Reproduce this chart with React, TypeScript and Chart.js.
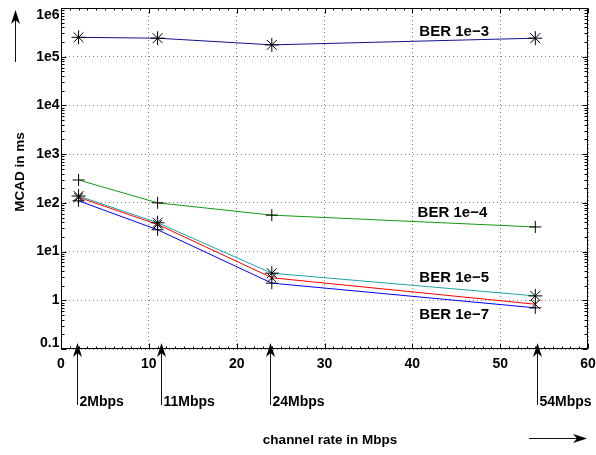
import React, { useEffect, useRef } from "react";
import { Chart, registerables } from "chart.js";

Chart.register(...registerables);

// ---- data ----
const rates = [2, 11, 24, 54];
const ber1e3 = [2.5e5, 2.4e5, 1.75e5, 2.4e5];
const ber1e4 = [295, 100, 56, 32];
const ber1e5 = [138, 39, 3.6, 1.23];
const ber1e6 = [130, 36, 2.9, 0.83];
const ber1e7 = [110, 28, 2.25, 0.7];

const yTickValues = [0.1, 1, 10, 100, 1000, 1e4, 1e5, 1e6];
const yTickLabels = ["0.1", "1", "1e1", "1e2", "1e3", "1e4", "1e5", "1e6"];
const xTickValues = [0, 10, 20, 30, 40, 50, 60];
const xTickLabels = ["0", "10", "20", "30", "40", "50", "60"];

const rateArrowX = [1.8, 11.4, 23.8, 54.2];
const rateArrowLabels = ["2Mbps", "11Mbps", "24Mbps", "54Mbps"];

const berLabels = ["BER 1e\u22123", "BER 1e\u22124", "BER 1e\u22125", "BER 1e\u22127"];
const berLabelX = [40.8, 40.6, 40.8, 40.8];
const berLabelY = [3.2e5, 62, 2.86, 0.5];

const xTitle = "channel rate in Mbps";
const yTitle = "MCAD in ms";

const FONT = "'Liberation Sans', Arial, Helvetica, sans-serif";

function drawArrow(ctx: CanvasRenderingContext2D, x1: number, y1: number, x2: number, y2: number) {
  const ang = Math.atan2(y2 - y1, x2 - x1);
  const hl = 14, hw = 4.5, notch = 10;
  ctx.save();
  ctx.strokeStyle = "#111";
  ctx.fillStyle = "#000";
  ctx.lineWidth = 1;
  ctx.beginPath();
  ctx.moveTo(x1, y1);
  ctx.lineTo(x2 - Math.cos(ang) * notch, y2 - Math.sin(ang) * notch);
  ctx.stroke();
  ctx.translate(x2, y2);
  ctx.rotate(ang);
  ctx.beginPath();
  ctx.moveTo(0, 0);
  ctx.lineTo(-hl, -hw);
  ctx.lineTo(-notch, 0);
  ctx.lineTo(-hl, hw);
  ctx.closePath();
  ctx.fill();
  ctx.restore();
}

const decorPlugin = {
  id: "decor",
  afterDraw(chart: any) {
    const ctx: CanvasRenderingContext2D = chart.ctx;
    const { left, right, top, bottom } = chart.chartArea;
    const xs = chart.scales.x;
    const ys = chart.scales.y;
    const L = Math.round(left) + 0.5;
    const R = Math.round(right) - 0.5;
    const T = Math.round(top) + 0.5;
    const B = Math.round(bottom) - 0.5;
    ctx.save();
    ctx.strokeStyle = "#000";
    ctx.lineWidth = 1;
    ctx.strokeRect(L, T, R - L, B - T);

    ctx.beginPath();
    // x ticks
    for (let v = 0; v <= 60; v++) {
      const px = Math.round(xs.getPixelForValue(v)) + 0.5;
      const len = v % 10 === 0 ? 5 : 2;
      ctx.moveTo(px, B); ctx.lineTo(px, B - len);
      ctx.moveTo(px, T); ctx.lineTo(px, T + len);
    }
    // y ticks
    for (let d = -1; d <= 5; d++) {
      for (let m = 1; m <= 9; m++) {
        const v = m * Math.pow(10, d);
        const py = Math.round(ys.getPixelForValue(v)) + 0.5;
        const len = m === 1 ? 5 : 3;
        ctx.moveTo(L, py); ctx.lineTo(L + len, py);
        ctx.moveTo(R, py); ctx.lineTo(R - len, py);
      }
    }
    ctx.stroke();

    // tick labels
    ctx.fillStyle = "#000";
    ctx.font = `bold 14px ${FONT}`;
    ctx.textAlign = "right";
    ctx.textBaseline = "middle";
    yTickValues.forEach((v, i) => {
      let py = ys.getPixelForValue(v);
      py = Math.min(Math.max(py, top + 7), bottom - 6);
      ctx.fillText(yTickLabels[i], L - 2, py);
    });
    ctx.textAlign = "center";
    ctx.textBaseline = "alphabetic";
    xTickValues.forEach((v, i) => {
      const px = xs.getPixelForValue(v);
      ctx.fillText(xTickLabels[i], px, bottom + 19);
    });

    // series labels
    ctx.font = `bold 15px ${FONT}`;
    ctx.textAlign = "left";
    ctx.textBaseline = "middle";
    berLabels.forEach((t, i) => {
      ctx.fillText(t, xs.getPixelForValue(berLabelX[i]), ys.getPixelForValue(berLabelY[i]));
    });

    // rate arrows
    ctx.font = `bold 14px ${FONT}`;
    rateArrowX.forEach((v, i) => {
      const px = Math.round(xs.getPixelForValue(v)) + 0.5;
      drawArrow(ctx, px, 405, px, bottom - 6);
      ctx.fillStyle = "#000";
      ctx.textAlign = "left";
      ctx.textBaseline = "middle";
      ctx.fillText(rateArrowLabels[i], px + 2, 402);
    });

    // axis titles
    ctx.font = `bold 13.5px ${FONT}`;
    ctx.textAlign = "center";
    ctx.textBaseline = "middle";
    ctx.fillText(xTitle, 330, 440);
    ctx.save();
    ctx.translate(20, 172);
    ctx.rotate(-Math.PI / 2);
    ctx.fillText(yTitle, 0, 0);
    ctx.restore();

    drawArrow(ctx, 15.5, 62, 15.5, 10);
    drawArrow(ctx, 529, 438.5, 587, 438.5);
    ctx.restore();
  },
};

function mk(label: string, values: number[], color: string, style: string, r: number) {
  return {
    label,
    data: rates.map((x, i) => ({ x, y: values[i] })),
    borderColor: color,
    borderWidth: 1,
    backgroundColor: color,
    pointStyle: style,
    pointRadius: r,
    pointBorderColor: "#000",
    pointBackgroundColor: "rgba(0,0,0,0)",
    pointBorderWidth: 1,
    tension: 0,
    fill: false,
  };
}

export default function App() {
  const ref = useRef<HTMLCanvasElement | null>(null);
  useEffect(() => {
    if (!ref.current) return;
    const chart = new Chart(ref.current, {
      type: "line",
      data: {
        datasets: [
          mk("BER 1e-3", ber1e3, "#12128c", "star", 7),
          mk("BER 1e-4", ber1e4, "#129a12", "cross", 6),
          mk("BER 1e-5", ber1e5, "#1fa3a3", "star", 7),
          mk("BER 1e-6", ber1e6, "#ff0000", "crossRot", 6),
          mk("BER 1e-7", ber1e7, "#0000ff", "cross", 6),
        ] as any,
      },
      options: {
        animation: false,
        responsive: false,
        devicePixelRatio: 1,
        layout: { padding: { top: 8, right: 7, left: 0, bottom: 0 } },
        plugins: { legend: { display: false }, tooltip: { enabled: false } },
        scales: {
          x: {
            type: "linear",
            min: 0,
            max: 60,
            ticks: { display: false, stepSize: 10 },
            grid: { color: "#808080", drawTicks: false, lineWidth: 1 },
            border: { display: false, dash: [1, 3] },
            afterBuildTicks: (s: any) => {
              s.ticks = xTickValues.map((v) => ({ value: v }));
            },
            afterFit: (s: any) => {
              s.height = 106;
            },
          },
          y: {
            type: "logarithmic",
            min: 0.1,
            max: 1e6,
            ticks: { display: false },
            grid: { color: "#808080", drawTicks: false, lineWidth: 1 },
            border: { display: false, dash: [1, 3] },
            afterBuildTicks: (s: any) => {
              s.ticks = yTickValues.map((v) => ({ value: v }));
            },
            afterFit: (s: any) => {
              s.width = 61;
            },
          },
        },
      } as any,
      plugins: [decorPlugin],
    });
    return () => chart.destroy();
  }, []);
  return (
    <div style={{ position: "absolute", left: 0, top: 0, width: 596, height: 455, background: "#fff" }}>
      <canvas ref={ref} width={596} height={455} style={{ display: "block" }} />
    </div>
  );
}
